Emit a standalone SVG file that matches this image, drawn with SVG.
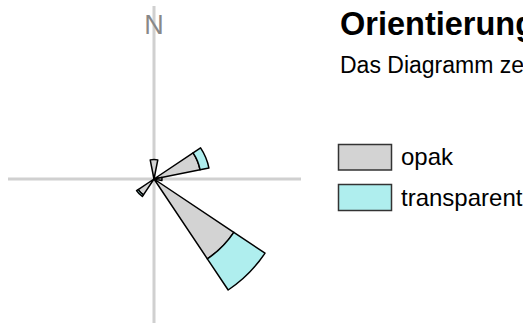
<svg xmlns="http://www.w3.org/2000/svg" width="523" height="324" viewBox="0 0 523 324">
<style>
.axis{stroke:#d0d0d0;stroke-width:3;fill:none}
.op{fill:#d3d3d3;stroke:#000;stroke-width:1.5;stroke-linejoin:round}
.tr{fill:#afeeee;stroke:#000;stroke-width:1.5;stroke-linejoin:round}
.lbox{stroke:#333;stroke-width:1.5}
.t{font-family:"Liberation Sans",Arial,sans-serif}
</style>
<rect width="523" height="324" fill="#fff"/>
<g id="axes">
<line class="axis" x1="8" y1="179" x2="301" y2="179"/>
<line class="axis" x1="154" y1="6" x2="154" y2="323"/>
<text class="t" x="154" y="34" font-size="27" fill="#888" text-anchor="middle">N</text>
</g>
<g id="connectors"></g>
<g id="sector-N">
<path class="op" d="M154,179 L150.2,159.87 A19.5,19.5 0 0 1 157.8,159.87 Z"/>
</g>
<g id="sector-ENE">
<path class="op" d="M154,179 L193.08,152.89 A47,47 0 0 1 200.1,169.83 Z"/>
<path class="tr" d="M193.08,152.89 L200.56,147.89 A56,56 0 0 1 208.92,168.07 L200.1,169.83 A47,47 0 0 0 193.08,152.89 Z"/>
</g>
<g id="sector-E">
<path class="op" d="M154,179 L161.85,177.44 A8,8 0 0 1 161.85,180.56 Z"/>
</g>
<g id="sector-SE">
<path class="op" d="M154,179 L233.82,232.34 A96,96 0 0 1 207.34,258.82 Z"/>
<path class="tr" d="M233.82,232.34 L265,253.17 A133.5,133.5 0 0 1 228.17,290 L207.34,258.82 A96,96 0 0 0 233.82,232.34 Z"/>
</g>
<g id="sector-SW">
<path class="op" d="M154,179 L143.44,194.8 A19,19 0 0 1 138.2,189.56 Z"/>
<path class="tr" d="M143.44,194.8 L142.33,196.46 A21,21 0 0 1 136.54,190.67 L138.2,189.56 A19,19 0 0 0 143.44,194.8 Z"/>
</g>
<g id="title">
<text class="t" x="340" y="35" font-size="32.5" font-weight="bold" fill="#000">Orientierung</text>
<text class="t" x="340" y="73" font-size="23" fill="#000">Das Diagramm ze</text>
</g>
<g id="legend-opak">
<rect class="lbox" x="338.5" y="144.5" width="53" height="25.5" fill="#d3d3d3"/>
<text class="t" x="401" y="165" font-size="24" fill="#000">opak</text>
</g>
<g id="legend-transparent">
<rect class="lbox" x="338.5" y="184.5" width="53" height="26" fill="#afeeee"/>
<text class="t" x="401" y="206" font-size="24" fill="#000">transparent</text>
</g>
</svg>
